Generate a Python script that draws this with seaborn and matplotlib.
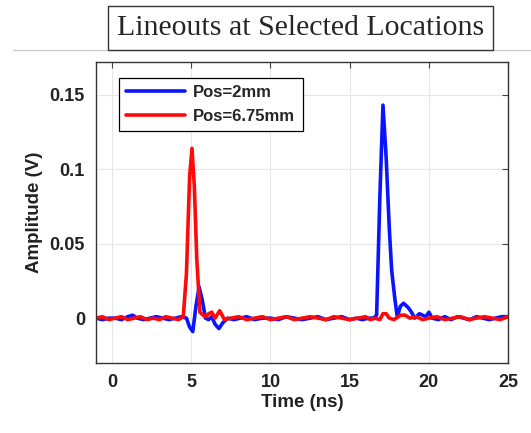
import numpy as np
import pandas as pd
import seaborn as sns
import matplotlib
matplotlib.use("Agg")
import matplotlib.pyplot as plt
from matplotlib.lines import Line2D

# lineout at Pos=2mm
blue_time = [-1.0, -0.6, -0.2, 0.2, 0.6, 1.0, 1.3, 1.6, 2.0, 2.4, 2.8, 3.2, 3.6, 4.0, 4.4, 4.7,
             4.9, 5.1, 5.3, 5.5, 5.7, 5.9, 6.1, 6.3, 6.5, 6.75, 7.0, 7.3, 7.7, 8.1, 8.5, 9.0,
             9.5, 10.0, 10.5, 11.0, 11.5, 12.0, 12.5, 13.0, 13.5, 14.0, 14.5, 15.0, 15.4, 15.8,
             16.2, 16.5, 16.7, 16.9, 17.1, 17.3, 17.5, 17.65, 17.85, 18.0, 18.2, 18.4, 18.7,
             18.9, 19.1, 19.4, 19.6, 19.8, 20.0, 20.2, 20.6, 21.0, 21.4, 21.8, 22.2, 22.6,
             23.0, 23.4, 23.8, 24.2, 24.6, 25.0]
blue_amp = [0.000, -0.001, 0.000, 0.000, -0.001, 0.001, 0.002, 0.000, -0.001, 0.000, 0.001, 0.000,
            -0.001, 0.000, 0.001, 0.000, -0.006, -0.009, 0.008, 0.021, 0.012, 0.000, -0.001, 0.001,
            -0.004, -0.007, -0.003, 0.000, -0.001, 0.000, 0.001, -0.001, 0.000, 0.000, -0.001,
            0.001, 0.000, -0.001, 0.000, 0.001, -0.001, 0.000, 0.001, -0.001, 0.000, -0.001,
            0.000, 0.000, 0.002, 0.080, 0.143, 0.108, 0.060, 0.032, 0.013, 0.001, 0.008, 0.010,
            0.007, 0.004, 0.000, 0.003, 0.002, 0.001, 0.004, 0.000, -0.001, 0.001, -0.001, 0.001,
            0.000, -0.001, 0.001, 0.000, -0.001, 0.000, 0.001, 0.001]

# lineout at Pos=6.75mm
red_time = [-1.0, -0.6, -0.2, 0.2, 0.6, 1.0, 1.4, 1.8, 2.2, 2.6, 3.0, 3.4, 3.8, 4.2, 4.5, 4.7,
            4.9, 5.05, 5.2, 5.35, 5.55, 5.75, 5.95, 6.1, 6.3, 6.5, 6.8, 7.1, 7.5, 8.0, 8.5, 9.0,
            9.5, 10.0, 10.5, 11.0, 11.5, 12.0, 12.5, 13.0, 13.5, 14.0, 14.5, 15.0, 15.5, 16.0,
            16.3, 16.6, 16.9, 17.1, 17.3, 17.5, 17.8, 18.2, 18.5, 18.8, 19.2, 19.6, 20.0, 20.5,
            21.0, 21.5, 22.0, 22.5, 23.0, 23.5, 24.0, 24.5, 25.0]
red_amp = [0.000, 0.001, -0.001, 0.000, 0.001, -0.001, 0.000, 0.001, -0.001, 0.000, -0.001, 0.001,
           0.000, -0.001, 0.001, 0.030, 0.095, 0.114, 0.088, 0.040, 0.004, 0.002, 0.001, 0.003,
           0.004, 0.000, 0.005, -0.001, 0.000, 0.001, -0.001, 0.000, 0.001, -0.001, 0.000,
           0.001, -0.001, 0.000, 0.001, 0.000, -0.001, 0.001, 0.000, -0.001, 0.000, 0.001,
           -0.001, 0.000, -0.001, 0.003, 0.003, 0.000, -0.001, 0.002, 0.002, 0.000, 0.001,
           -0.001, 0.000, 0.001, -0.001, 0.000, 0.001, -0.001, 0.000, 0.001, 0.000, -0.001, 0.001]

labels = ["Pos=2mm", "Pos=6.75mm"]
x_ticks = [0, 5, 10, 15, 20, 25]
y_ticks = [0, 0.05, 0.1, 0.15]
y_tick_labels = ["0", "0.05", "0.1", "0.15"]

df = pd.concat([
    pd.DataFrame({"t": blue_time, "amp": blue_amp, "pos": labels[0]}),
    pd.DataFrame({"t": red_time, "amp": red_amp, "pos": labels[1]}),
])

sns.set_style("whitegrid")
plt.rcParams["font.family"] = ["Liberation Sans", "DejaVu Sans"]

fig = plt.figure(figsize=(5.31, 4.33), dpi=100)
ax = fig.add_axes([0.181, 0.162, 0.776, 0.695])
sns.lineplot(data=df, x="t", y="amp", hue="pos", palette=["#0a14ff", "#ff0a0a"],
             linewidth=2.6, ax=ax, sort=False)

ax.set_xlim(-1, 25)
ax.set_ylim(-0.03, 0.172)
ax.set_xticks(x_ticks)
ax.set_yticks(y_ticks)
ax.set_yticklabels(y_tick_labels)
ax.tick_params(direction="in", top=True, right=True, length=4, width=0.8, color="#444444",
               labelsize=13, pad=8)
for lab in ax.get_xticklabels() + ax.get_yticklabels():
    lab.set_fontweight("bold")
    lab.set_color("#222222")
ax.grid(True, color="#e6e6e6", linewidth=0.8)
for s in ax.spines.values():
    s.set_color("#333333")
    s.set_linewidth(1.0)
ax.set_xlabel("Time (ns)", fontsize=13.5, fontweight="bold", color="#222222", labelpad=2)
ax.set_ylabel("Amplitude (V)", fontsize=13.5, fontweight="bold", color="#222222", labelpad=5)

leg = ax.legend(loc="upper left", bbox_to_anchor=(0.035, 0.975), fancybox=False,
                framealpha=1, edgecolor="black", handlelength=3.5, borderpad=0.45,
                labelspacing=0.5, handletextpad=0.5, prop={"weight": "bold", "size": 12})
leg.get_frame().set_linewidth(0.9)

fig.text(0.566, 0.935, "Lineouts at Selected Locations", family="Liberation Serif", fontsize=21.5,
         ha="center", va="center",
         bbox=dict(boxstyle="square,pad=0.3", facecolor="white", edgecolor="#333333", linewidth=1.0))
fig.add_artist(Line2D([0.025, 1.0], [0.885, 0.885], transform=fig.transFigure, color="#cccccc",
                      linewidth=1.0))

fig.savefig("out.png", dpi=100)
